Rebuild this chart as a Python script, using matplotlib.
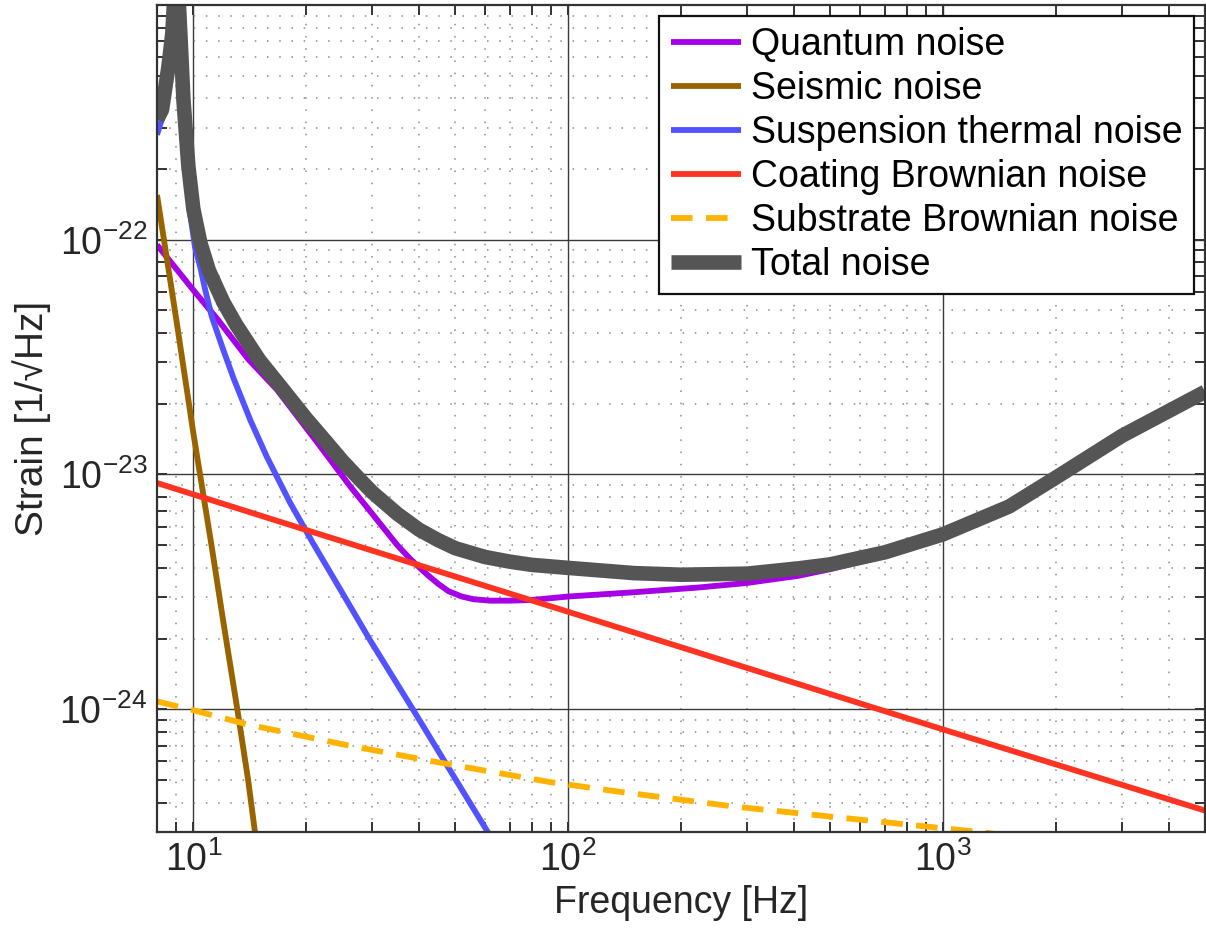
import matplotlib
matplotlib.use("Agg")
import matplotlib.pyplot as plt
import matplotlib.ticker as mticker

plt.rcParams['font.family'] = ['Liberation Sans', 'DejaVu Sans']
plt.rcParams['mathtext.fontset'] = 'custom'
plt.rcParams['mathtext.rm'] = 'Liberation Sans'
plt.rcParams['mathtext.it'] = 'Liberation Sans:italic'
plt.rcParams['mathtext.bf'] = 'Liberation Sans:bold'

# values (Hz, strain 1/sqrt(Hz))
f_quantum = [8, 10, 11.58, 14, 16.7, 21.4, 26.2, 30, 35, 38, 42, 45, 48, 52, 56, 62, 70,
             80, 100, 150, 223, 300, 411, 500, 700, 1000, 1500, 2000, 3000, 5000]
h_quantum = [9.5e-23, 6.1e-23, 4.6e-23, 3.1e-23, 2.3e-23, 1.37e-23, 8.9e-24, 6.8e-24,
             5.0e-24, 4.35e-24, 3.75e-24, 3.42e-24, 3.18e-24, 3.02e-24, 2.94e-24,
             2.9e-24, 2.9e-24, 2.92e-24, 3.02e-24, 3.15e-24, 3.3e-24, 3.45e-24, 3.7e-24,
             3.95e-24, 4.5e-24, 5.45e-24, 7.25e-24, 9.6e-24, 1.44e-23, 2.24e-23]

f_seismic = [8, 9, 10, 11.2, 12, 13.1, 14, 14.6, 15]
h_seismic = [1.55e-22, 4.6e-23, 1.5e-23, 4.9e-24, 2.4e-24, 1.0e-24, 5.0e-25, 3.0e-25, 2.3e-25]

f_susp = [8, 8.4, 8.58, 8.79, 9.0, 9.23, 9.41, 9.7, 9.8, 10.1, 10.44, 10.76, 11.2, 12,
          12.8, 14.2, 15.7, 18.1, 20.85, 25, 29.6, 38.5, 47.4, 61, 65]
h_susp = [2.8e-22, 3.6e-22, 5.0e-22, 7.2e-22, 3.0e-21, 7.0e-22, 3.5e-22, 1.5e-22,
          1.3e-22, 9.3e-23, 7.6e-23, 6.1e-23, 4.7e-23, 3.42e-23, 2.57e-23, 1.7e-23,
          1.19e-23, 7.6e-24, 5.1e-24, 3.12e-24, 1.97e-24, 1.0e-24, 5.8e-25, 3.0e-25,
          2.6e-25]

f_coating = [8, 20, 100, 1000, 5000]
h_coating = [9.2e-24, 5.8e-24, 2.6e-24, 8.2e-25, 3.7e-25]

f_substrate = [8, 10, 14, 26, 46, 89, 137, 273, 526, 843, 1300, 1400]
h_substrate = [1.08e-24, 9.9e-25, 8.6e-25, 7.0e-25, 5.9e-25, 4.9e-25, 4.45e-25,
               3.86e-25, 3.46e-25, 3.2e-25, 2.98e-25, 2.93e-25]

f_total = [8, 8.25, 8.58, 8.79, 8.9, 9.0, 9.1, 9.23, 9.41, 9.7, 10.0, 10.44, 11.0, 12.0,
           13, 14, 15, 17.35, 20, 22.5, 25, 27.5, 30, 35, 40, 45, 50, 60, 70, 80, 100,
           150, 200, 300, 411, 500, 700, 1000, 1500, 2000, 3000, 5000]
h_total = [3.25e-22, 3.58e-22, 5.45e-22, 7.6e-22, 1.1e-21, 3.0e-21, 1.2e-21, 7.6e-22,
           3.94e-22, 2.05e-22, 1.35e-22, 9.7e-23, 7.4e-23, 5.45e-23, 4.35e-23, 3.63e-23,
           3.07e-23, 2.3e-23, 1.73e-23, 1.39e-23, 1.14e-23, 9.7e-24, 8.4e-24, 6.8e-24,
           5.82e-24, 5.25e-24, 4.85e-24, 4.45e-24, 4.25e-24, 4.12e-24, 4.0e-24, 3.8e-24,
           3.74e-24, 3.78e-24, 3.98e-24, 4.14e-24, 4.66e-24, 5.56e-24, 7.3e-24, 9.7e-24,
           1.46e-23, 2.25e-23]

labels = ['Quantum noise', 'Seismic noise', 'Suspension thermal noise',
          'Coating Brownian noise', 'Substrate Brownian noise', 'Total noise']

fig = plt.figure(figsize=(12.06, 9.35), dpi=100)
ax = fig.add_axes([0.1302, 0.1102, 0.869, 0.8845])

lw = 4.2
ax.loglog(f_quantum, h_quantum, color='#A600E6', lw=lw, solid_capstyle='butt', label=labels[0])
ax.loglog(f_seismic, h_seismic, color='#996300', lw=lw, solid_capstyle='butt', label=labels[1])
ax.loglog(f_susp, h_susp, color='#5252FF', lw=lw, solid_capstyle='butt', label=labels[2])
ax.loglog(f_coating, h_coating, color='#FF3322', lw=lw, solid_capstyle='butt', label=labels[3])
ax.loglog(f_substrate, h_substrate, color='#FFB300', lw=lw, ls=(0, (3.7, 2.3)), label=labels[4])
ax.loglog(f_total, h_total, color='#555555', lw=10.5, solid_capstyle='butt',
          solid_joinstyle='round', label=labels[5])

ax.set_xlim(8, 5000)
ax.set_ylim(3e-25, 1e-21)

ax.xaxis.set_major_locator(mticker.FixedLocator([10, 100, 1000]))
ax.xaxis.set_major_formatter(mticker.LogFormatterSciNotation())
ax.xaxis.set_minor_locator(mticker.LogLocator(base=10, subs=range(2, 10), numticks=20))
ax.yaxis.set_major_locator(mticker.FixedLocator([1e-24, 1e-23, 1e-22]))
ax.yaxis.set_major_formatter(mticker.LogFormatterSciNotation())
ax.yaxis.set_minor_locator(mticker.LogLocator(base=10, subs=range(2, 10), numticks=20))
ax.xaxis.set_minor_formatter(mticker.NullFormatter())
ax.yaxis.set_minor_formatter(mticker.NullFormatter())

ax.set_axisbelow(True)
ax.grid(which='major', color='#3a3a3a', lw=1.0, ls='-')
ax.grid(which='minor', color='#8a8a8a', lw=1.1, ls=(0, (1, 7)))

ax.tick_params(which='both', direction='in', top=True, right=True, width=1.4,
               color='#333333', labelsize=27, labelcolor='#262626')
ax.tick_params(which='major', length=7, pad=7)
ax.tick_params(which='minor', length=7)
for s in ax.spines.values():
    s.set_linewidth(1.6)
    s.set_color('#333333')

ax.set_xlabel('Frequency [Hz]', fontsize=27, color='#262626', labelpad=4)
ax.set_ylabel('Strain [1/\u221aHz]', fontsize=28, color='#262626', labelpad=6)

leg = ax.legend(loc='upper right', fontsize=27, handlelength=1.87, handletextpad=0.27,
                borderpad=0.3, labelspacing=0.21, borderaxespad=0.3,
                fancybox=False, framealpha=1)
leg.get_frame().set_edgecolor('#111111')
leg.get_frame().set_linewidth(1.6)

fig.savefig('out.png', dpi=100)
